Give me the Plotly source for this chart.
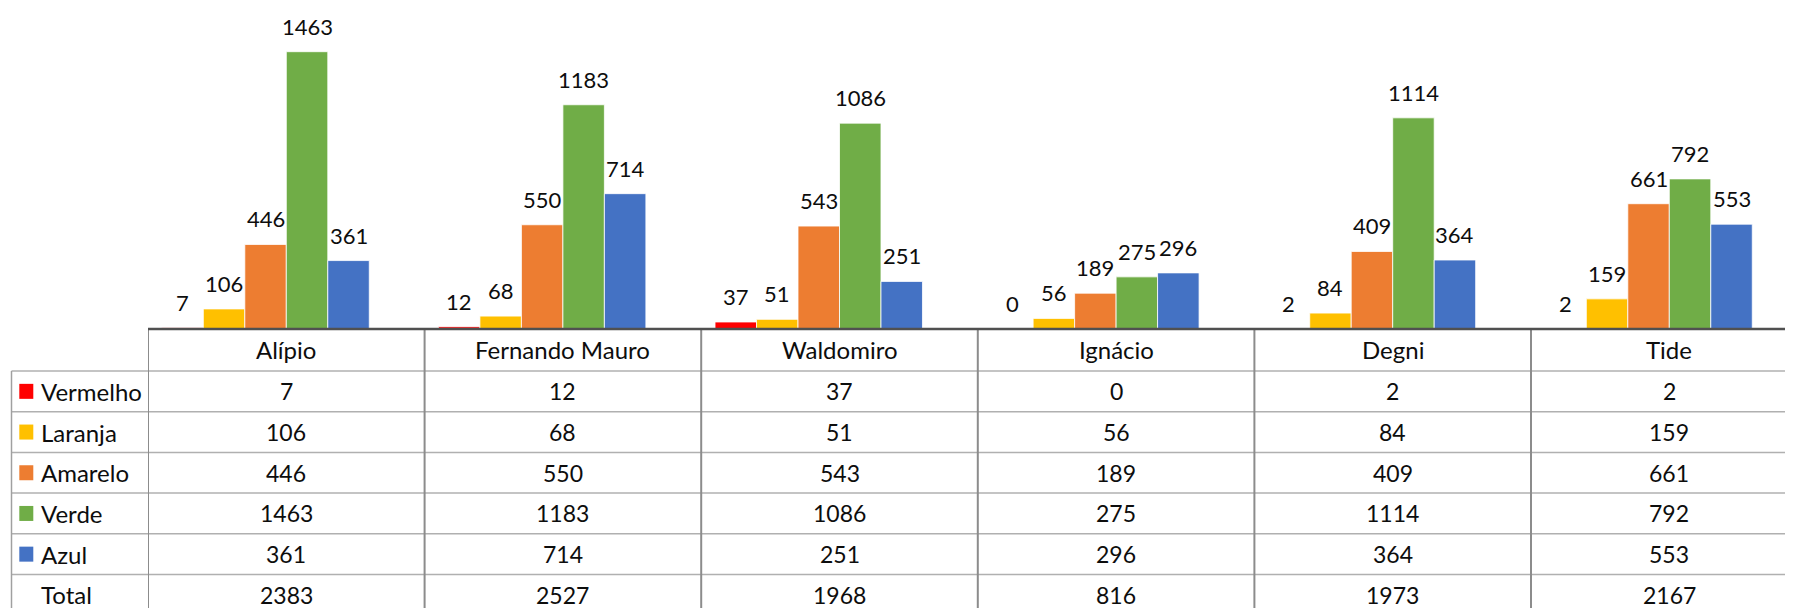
import plotly.graph_objects as go

categories = ["Alípio", "Fernando Mauro", "Waldomiro", "Ignácio", "Degni", "Tide"]
series_names = ["Vermelho", "Laranja", "Amarelo", "Verde", "Azul"]
vermelho = [7, 12, 37, 0, 2, 2]
laranja = [106, 68, 51, 56, 84, 159]
amarelo = [446, 550, 543, 189, 409, 661]
verde = [1463, 1183, 1086, 275, 1114, 792]
azul = [361, 714, 251, 296, 364, 553]
total = [2383, 2527, 1968, 816, 1973, 2167]
colors = ["#FF0000", "#FFC000", "#ED7D31", "#70AD47", "#4472C4"]

PAGE_W, PAGE_H = 1793, 608
OFF = 8  # page body margin
W, H = PAGE_W - OFF, PAGE_H - OFF
FONT = "Lato"
FS_TEXT = 24
FS_NUM = 22
TXT = "#0d0d0d"

series_vals = [vermelho, laranja, amarelo, verde, azul]

fig = go.Figure()
for name, vals, col in zip(series_names, series_vals, colors):
    fig.add_trace(go.Bar(x=list(range(len(categories))), y=vals, name=name,
                         marker=dict(color=col, line=dict(color="white", width=0.8)),
                         hoverinfo="skip"))
# invisible Total series (occupies a slot in each group, like the source)
fig.add_trace(go.Bar(x=list(range(len(categories))), y=total, name="Total",
                     marker=dict(color="rgba(0,0,0,0)", line=dict(width=0)),
                     hoverinfo="skip"))

# geometry (page pixels)
PLOT_LEFT = 148
COL_W = 276.6
BASE_Y = 329
PX_PER_UNIT = 0.18955
HEADER_BOTTOM = 371
ROW_H = 40.7
TABLE_LEFT = 11.5

def px(x):
    return (x - OFF) / W

def py(y):
    return 1 - (y - OFF) / H

n_slots = 6
bargap = 0.1
slot_w = (1 - bargap) / n_slots

annotations = []
# data labels above bars
for i, vals in enumerate(series_vals):
    off = (i - (n_slots - 1) / 2) * slot_w
    for c, v in enumerate(vals):
        annotations.append(dict(x=c + off, y=v, xref="x", yref="y", text=str(v),
                                showarrow=False, yanchor="bottom", yshift=10,
                                font=dict(family=FONT, size=FS_NUM, color=TXT)))

shapes = []
# table horizontal lines
row_lines = [HEADER_BOTTOM + k * ROW_H for k in range(6)]
for yl in row_lines:
    shapes.append(dict(type="line", xref="paper", yref="paper", x0=px(TABLE_LEFT), x1=1,
                       y0=py(yl), y1=py(yl), line=dict(color="#B0B0B0", width=1.5)))
# left border of label column
shapes.append(dict(type="line", xref="paper", yref="paper", x0=px(TABLE_LEFT), x1=px(TABLE_LEFT),
                   y0=py(HEADER_BOTTOM), y1=0, line=dict(color="#A0A0A0", width=1.5)))
# vertical column lines
for c in range(len(categories)):
    shapes.append(dict(type="line", xref="x", yref="paper", x0=c - 0.5, x1=c - 0.5,
                       y0=py(BASE_Y), y1=0, line=dict(color="#8C8C8C", width=2)))
# axis line
shapes.append(dict(type="line", xref="paper", yref="paper", x0=px(PLOT_LEFT), x1=1,
                   y0=py(BASE_Y), y1=py(BASE_Y), line=dict(color="#505050", width=2.5)))

# header row (category names)
header_c = (BASE_Y + HEADER_BOTTOM) / 2
for c, name in enumerate(categories):
    annotations.append(dict(x=c, y=py(header_c), xref="x", yref="paper", text=name,
                            showarrow=False, yanchor="middle",
                            font=dict(family=FONT, size=FS_TEXT, color=TXT)))

row_labels = series_names + ["Total"]
row_vals = series_vals + [total]
for r, (lab, vals) in enumerate(zip(row_labels, row_vals)):
    yc = HEADER_BOTTOM + (r + 0.5) * ROW_H
    annotations.append(dict(x=px(39), y=py(yc), xref="paper", yref="paper", text=lab,
                            showarrow=False, xanchor="left", yanchor="middle",
                            font=dict(family=FONT, size=FS_TEXT, color=TXT)))
    if r < len(colors):
        shapes.append(dict(type="rect", xref="paper", yref="paper",
                           x0=px(19.3), x1=px(33.3), y0=py(yc - 7.5), y1=py(yc + 7.5),
                           fillcolor=colors[r], line=dict(width=0)))
    for c, v in enumerate(vals):
        annotations.append(dict(x=c, y=py(yc), xref="x", yref="paper", text=str(v),
                                showarrow=False, yanchor="middle",
                                font=dict(family=FONT, size=FS_NUM + 1, color=TXT)))

x_range_end = -0.5 + (PAGE_W - PLOT_LEFT) / COL_W
y_top = (BASE_Y - OFF) / PX_PER_UNIT

fig.update_layout(
    width=W, height=H,
    margin=dict(l=0, r=0, t=0, b=0),
    paper_bgcolor="white", plot_bgcolor="white",
    barmode="group", bargap=bargap, bargroupgap=0,
    showlegend=False,
    xaxis=dict(domain=[px(PLOT_LEFT), 1], range=[-0.5, x_range_end],
               showticklabels=False, showgrid=False, zeroline=False, showline=False,
               ticks=""),
    yaxis=dict(domain=[py(BASE_Y), 1], range=[0, y_top], visible=False),
    shapes=shapes,
    annotations=annotations,
    font=dict(family=FONT, size=FS_TEXT, color=TXT),
)

fig.write_html("out.html")
